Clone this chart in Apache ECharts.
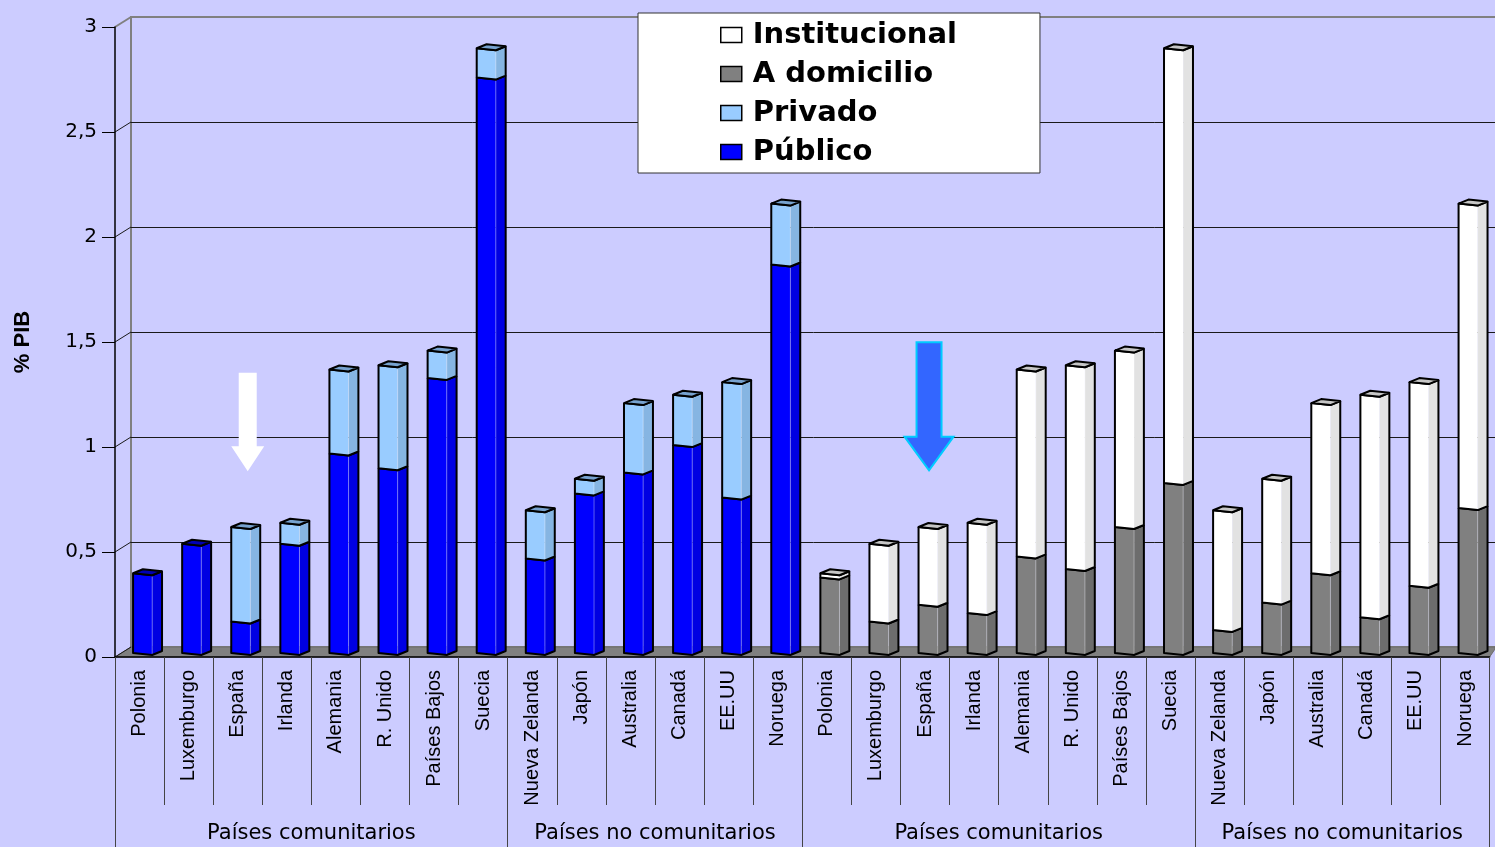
<!DOCTYPE html>
<html>
<head>
<meta charset="utf-8">
<script src="https://cdn.jsdelivr.net/npm/echarts@6/dist/echarts.min.js"></script>
<style>
  html, body { margin: 0; padding: 0; background: #ccccff; }
  #chart { width: 1495px; height: 847px; }
</style>
</head>
<body>
<div id="chart"></div>
<script>
// Countries in each block (same order in both halves of the chart)
const paisesUE = ['Polonia', 'Luxemburgo', 'España', 'Irlanda', 'Alemania', 'R. Unido', 'Países Bajos', 'Suecia'];
const paisesNoUE = ['Nueva Zelanda', 'Japón', 'Australia', 'Canadá', 'EE.UU', 'Noruega'];
const grupos = ['Países comunitarios', 'Países no comunitarios'];

// Spending on long-term care, % of GDP
// Left half: split by financing
const publico = [0.38, 0.52, 0.15, 0.52, 0.95, 0.88, 1.31, 2.74, 0.45, 0.76, 0.86, 0.99, 0.74, 1.85];
const privado = [0.00, 0.00, 0.45, 0.10, 0.40, 0.49, 0.13, 0.14, 0.23, 0.07, 0.33, 0.24, 0.55, 0.29];
// Right half: split by setting
const domicilio = [0.36, 0.15, 0.23, 0.19, 0.46, 0.40, 0.60, 0.81, 0.11, 0.24, 0.38, 0.17, 0.32, 0.69];
const institucional = [0.02, 0.37, 0.37, 0.43, 0.89, 0.97, 0.84, 2.07, 0.57, 0.59, 0.81, 1.06, 0.97, 1.45];

const yMax = 3;
const yStep = 0.5;

// ---- derived structures ----
const bloque = [...paisesUE, ...paisesNoUE];
const categorias = [...bloque, ...bloque];
const n = bloque.length;
const tramos = [paisesUE.length, paisesNoUE.length, paisesUE.length, paisesNoUE.length];
const cortes = [0];
tramos.forEach(t => cortes.push(cortes[cortes.length - 1] + t));
const centros = tramos.map((t, k) => cortes[k] + t / 2);
const nombreTramo = {};
centros.forEach((c, k) => { nombreTramo[c] = grupos[k % 2]; });

// Layout of the pseudo-3D box: front plane, bar plane and back wall
const FRONT = { left: 115, top: 27, width: 1374.6, height: 630 };
const BARS = { left: 123, top: 23, width: 1374.6, height: 630 };
const BACK = { left: 131, top: 17, width: 1390, height: 630 };

const caras = {
  'Público':       { front: '#0000ff', side: '#0000e2', top: '#0000b4' },
  'Privado':       { front: '#99ccff', side: '#86b5e2', top: '#77a2cf' },
  'A domicilio':   { front: '#808080', side: '#6d6d6d', top: '#5c5c5c' },
  'Institucional': { front: '#ffffff', side: '#e2e2e2', top: '#c6c6c6' }
};

function segmentos(offset, bajo, alto) {
  const out = [];
  for (let i = 0; i < n; i++) {
    const base = bajo ? bajo[i] : 0;
    const val = alto[i];
    if (val <= 0) continue;
    out.push([offset + i, base, base + val]);
  }
  return out;
}

// A segment is the topmost one when nothing is stacked above it
function esCima(nombre, i) {
  if (nombre === 'Público') return !(privado[i] > 0);
  if (nombre === 'A domicilio') return !(institucional[i] > 0);
  return true;
}

function columna3D(nombre) {
  const c = caras[nombre];
  return function (params, api) {
    const idx = api.value(0);
    const lo = api.value(1);
    const hi = api.value(2);
    const pLo = api.coord([idx, lo]);
    const pHi = api.coord([idx, hi]);
    const band = api.size([1, 0])[0];
    const w = band * 0.59;
    const xL = pLo[0] - w / 2;
    const xM = xL + w * 0.66;
    const xR = xL + w;
    const yB = pLo[1];
    const yT = pHi[1];
    const d = 2;
    const cima = esCima(nombre, idx % n);
    const stroke = { stroke: '#000', lineWidth: 2, fill: null, lineJoin: 'round' };
    const children = [
      { type: 'polygon', shape: { points: [[xL, yT], [xM, yT + d], [xM, yB + d], [xL, yB]] },
        style: { fill: c.front } },
      { type: 'polygon', shape: { points: [[xM, yT + d], [xR, yT - d], [xR, yB - d], [xM, yB + d]] },
        style: { fill: c.side } },
      { type: 'line', shape: { x1: xM, y1: yT + d, x2: xM, y2: yB + d },
        style: { stroke: 'rgba(255,255,255,0.35)', lineWidth: 1 } },
      { type: 'polyline', shape: { points: [[xL, yT], [xL, yB], [xM, yB + d], [xR, yB - d], [xR, yT - d]] },
        style: stroke },
      { type: 'polyline', shape: { points: [[xL, yT], [xM, yT + d], [xR, yT - d]] },
        style: stroke }
    ];
    if (cima) {
      const back = [xL + (xR - xM), yT - 2 * d];
      children.push({ type: 'polygon', shape: { points: [[xL, yT], [xM, yT + d], [xR, yT - d], back] },
        style: { fill: c.top, stroke: '#000', lineWidth: 2, lineJoin: 'round' } });
    }
    return { type: 'group', children };
  };
}

function serie(nombre, data) {
  return {
    name: nombre,
    type: 'custom',
    xAxisIndex: 1,
    yAxisIndex: 1,
    clip: false,
    z: 5,
    encode: { x: 0, y: 2 },
    itemStyle: { color: caras[nombre].front, borderColor: '#000', borderWidth: 1.5 },
    renderItem: columna3D(nombre),
    data: data
  };
}

const chart = echarts.init(document.getElementById('chart'));

const option = {
  backgroundColor: '#ccccff',
  animation: false,
  grid: [
    Object.assign({ show: true, borderColor: '#808080', borderWidth: 2, backgroundColor: 'transparent',
      outerBoundsMode: 'none', containLabel: false }, BACK),
    Object.assign({ outerBoundsMode: 'none', containLabel: false }, BARS),
    Object.assign({ outerBoundsMode: 'none', containLabel: false }, FRONT)
  ],
  xAxis: [
    { gridIndex: 0, type: 'category', data: categorias, show: false },
    { gridIndex: 1, type: 'category', data: categorias, show: false },
    {
      gridIndex: 2, type: 'category', data: categorias, position: 'bottom', z: 6,
      axisLine: { show: true, lineStyle: { color: '#000', width: 1.5 } },
      axisTick: { show: true, interval: 0, length: 148, lineStyle: { color: '#444', width: 1 } },
      axisLabel: { interval: 0, rotate: 90, margin: 13, fontFamily: 'Liberation Sans', fontSize: 20, color: '#000' },
      splitLine: { show: false }
    },
    {
      gridIndex: 2, type: 'value', min: 0, max: categorias.length, position: 'bottom', z: 6,
      axisLine: { show: false },
      splitLine: { show: false },
      axisTick: { show: true, customValues: cortes, length: 190, lineStyle: { color: '#444', width: 1 } },
      axisLabel: {
        customValues: centros, margin: 166, fontFamily: 'DejaVu Sans', fontSize: 21, color: '#000',
        formatter: v => nombreTramo[v] || ''
      }
    }
  ],
  yAxis: [
    {
      gridIndex: 0, type: 'value', min: 0, max: yMax, interval: yStep,
      axisLine: { show: false }, axisTick: { show: false }, axisLabel: { show: false },
      splitLine: { show: true, showMinLine: false, showMaxLine: false, lineStyle: { color: '#1a1a1a', width: 1 } }
    },
    { gridIndex: 1, type: 'value', min: 0, max: yMax, interval: yStep, show: false, splitLine: { show: false } },
    {
      gridIndex: 2, type: 'value', min: 0, max: yMax, interval: yStep, z: 6,
      name: '% PIB', nameLocation: 'middle', nameRotate: 90, nameGap: 81,
      nameTextStyle: { fontFamily: 'Liberation Sans', fontWeight: 'bold', fontSize: 22, color: '#000' },
      axisLine: { show: true, lineStyle: { color: '#000', width: 1.5 } },
      axisTick: { show: true, length: 13, lineStyle: { color: '#000', width: 1 } },
      axisLabel: { margin: 18, fontFamily: 'DejaVu Sans', fontSize: 20, color: '#000',
        formatter: v => String(v).replace('.', ',') },
      splitLine: { show: false }
    }
  ],
  legend: {
    data: ['Institucional', 'A domicilio', 'Privado', 'Público'],
    orient: 'vertical',
    left: 638, top: 13,
    padding: [7, 83, 6, 82],
    itemWidth: 21, itemHeight: 15, itemGap: 9,
    icon: 'rect',
    backgroundColor: '#ffffff', borderColor: '#333', borderWidth: 1, borderRadius: 0,
    itemStyle: { borderColor: '#000', borderWidth: 1.5 },
    selectedMode: false,
    textStyle: { fontFamily: 'DejaVu Sans', fontWeight: 'bold', fontSize: 29, lineHeight: 30, color: '#000',
      padding: [0, 0, 0, 6] }
  },
  series: [
    serie('Público', segmentos(0, null, publico)),
    serie('Privado', segmentos(0, publico, privado)),
    serie('A domicilio', segmentos(n, null, domicilio)),
    serie('Institucional', segmentos(n, domicilio, institucional))
  ]
};

chart.setOption(option);

// Floor, wall connectors and the two pointer arrows, placed through the axes
function decorar() {
  const yFront = v => chart.convertToPixel({ yAxisIndex: 2 }, v);
  const yBack = v => chart.convertToPixel({ yAxisIndex: 0 }, v);
  const barPt = (cat, v) => chart.convertToPixel({ xAxisIndex: 1, yAxisIndex: 1 }, [cat, v]);
  const W = chart.getWidth();
  const f0 = yFront(0), b0 = yBack(0);
  const fRight = FRONT.left + FRONT.width;
  const graphic = [];

  graphic.push({
    type: 'polygon', z: 3, silent: true,
    shape: { points: [[FRONT.left, f0], [fRight, f0], [W, b0 + 2], [W, b0], [BACK.left, b0]] },
    style: { fill: '#808080', stroke: '#6a6a6a', lineWidth: 1 }
  });
  for (let v = 0; v <= yMax + 1e-9; v += yStep) {
    const top = v >= yMax - 1e-9;
    graphic.push({
      type: 'line', z: 4, silent: true,
      shape: { x1: FRONT.left, y1: yFront(v), x2: BACK.left, y2: yBack(v) },
      style: { stroke: top ? '#808080' : '#1a1a1a', lineWidth: top ? 2 : 1 }
    });
  }

  function flecha(cat, vTop, vNeck, vTip, dx, shaftW, headW, style) {
    const pTop = barPt(cat, vTop), pNeck = barPt(cat, vNeck), pTip = barPt(cat, vTip);
    const cx = pTop[0] + dx;
    return {
      type: 'polygon', z: 20, silent: true,
      shape: { points: [
        [cx - shaftW / 2, pTop[1]], [cx + shaftW / 2, pTop[1]], [cx + shaftW / 2, pNeck[1]],
        [cx + headW / 2, pNeck[1]], [cx, pTip[1]], [cx - headW / 2, pNeck[1]], [cx - shaftW / 2, pNeck[1]]
      ] },
      style: style
    };
  }
  const iEsp = bloque.indexOf('España');
  graphic.push(flecha(iEsp, 1.335, 0.985, 0.865, 2, 18, 33, { fill: '#ffffff' }));
  graphic.push(flecha(n + iEsp, 1.48, 1.03, 0.87, -4, 25, 49,
    { fill: '#3366ff', stroke: '#00ccff', lineWidth: 2 }));

  chart.setOption({ graphic: graphic });
}
decorar();
</script>
</body>
</html>
